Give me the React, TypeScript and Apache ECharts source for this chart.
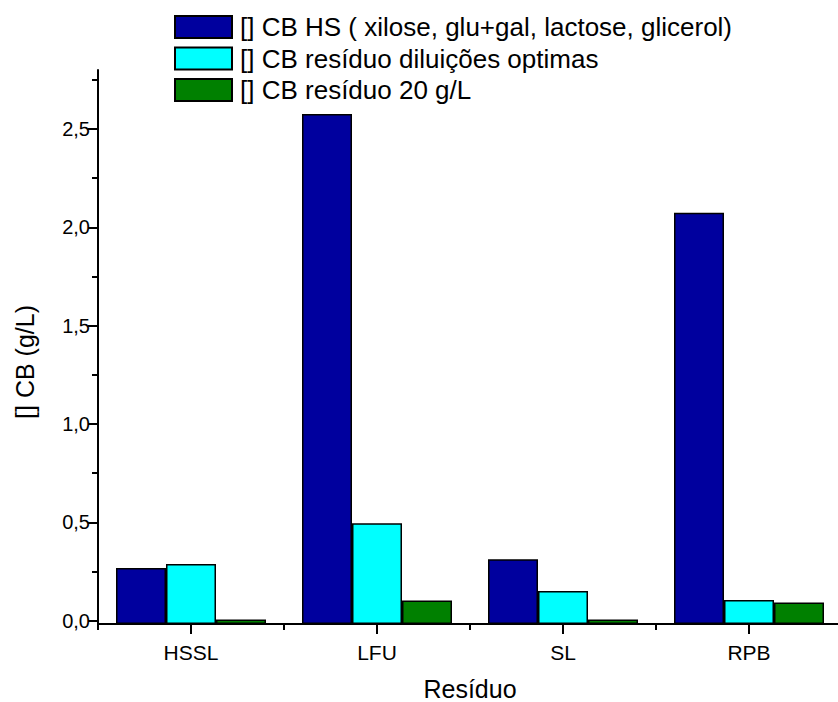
import React, { useEffect, useRef } from "react";
import * as echarts from "echarts";

const categories = ["HSSL", "LFU", "SL", "RPB"];
const seriesNames = [
  "[] CB HS ( xilose, glu+gal, lactose, glicerol)",
  "[] CB resíduo diluições optimas",
  "[] CB resíduo 20 g/L",
];
const hsValues = [0.268, 2.576, 0.312, 2.074];
const optimaValues = [0.288, 0.495, 0.151, 0.105];
const g20Values = [0.006, 0.102, 0.006, 0.092];
const yMajorTicks = [0, 0.5, 1.0, 1.5, 2.0, 2.5];
const yMinorTicks = [0.25, 0.75, 1.25, 1.75, 2.25, 2.75];
const colors = ["#00009E", "#00FFFF", "#008000"];

const FONT = 'Arial, "Liberation Sans", sans-serif';

export default function App() {
  const ref = useRef<HTMLDivElement>(null);
  useEffect(() => {
    if (!ref.current) return;
    const chart = echarts.init(ref.current, undefined, { renderer: "svg" });
    const yMin = -0.017;
    const yMax = 2.8;
    const values = [hsValues, optimaValues, g20Values];
    chart.setOption({
      animation: false,
      backgroundColor: "#ffffff",
      textStyle: { fontFamily: FONT, color: "#000" },
      grid: {
        left: 98,
        top: 70,
        width: 744,
        height: 554,
        containLabel: false,
        outerBoundsMode: "none",
      },
      legend: {
        orient: "vertical",
        left: 174,
        top: 14,
        padding: 0,
        itemWidth: 57,
        itemHeight: 22,
        itemGap: 5.5,
        icon: "rect",
        textStyle: { fontSize: 26, fontFamily: FONT, color: "#000", padding: [0, 0, 0, 3] },
        data: seriesNames,
      },
      xAxis: [
        {
          type: "category",
          data: categories,
          position: "bottom",
          axisLine: { show: true, onZero: false, lineStyle: { color: "#000", width: 2 } },
          axisTick: { show: true, alignWithLabel: true, length: 10, lineStyle: { color: "#000", width: 2 } },
          axisLabel: { fontSize: 21, color: "#000", margin: 18, fontFamily: FONT },
          splitLine: { show: false },
          name: "Resíduo",
          nameLocation: "middle",
          nameGap: 52,
          nameTextStyle: { fontSize: 25, color: "#000", fontFamily: FONT },
        },
        {
          type: "category",
          data: categories,
          position: "bottom",
          axisLine: { show: false, onZero: false },
          axisTick: { show: true, alignWithLabel: false, length: 6, lineStyle: { color: "#000", width: 2 } },
          axisLabel: { show: false },
          splitLine: { show: false },
        },
      ],
      yAxis: [
        {
          type: "value",
          min: yMin,
          max: yMax,
          startValue: yMin,
          position: "left",
          axisLine: { show: true, lineStyle: { color: "#000", width: 2 } },
          axisTick: { show: true, length: 10, customValues: yMajorTicks, lineStyle: { color: "#000", width: 2 } },
          axisLabel: {
            fontSize: 20,
            color: "#000",
            margin: 8,
            fontFamily: FONT,
            customValues: yMajorTicks,
            formatter: (v: number) => v.toFixed(1).replace(".", ","),
          },
          splitLine: { show: false },
        },
        {
          type: "value",
          min: yMin,
          max: yMax,
          position: "left",
          axisLine: { show: false },
          axisTick: { show: true, length: 6, customValues: yMinorTicks, lineStyle: { color: "#000", width: 2 } },
          axisLabel: { show: false },
          splitLine: { show: false },
        },
      ],
      graphic: [
        {
          type: "text",
          x: 25,
          y: 362,
          rotation: Math.PI / 2,
          style: {
            text: "[] CB (g/L)",
            fontSize: 25,
            fontFamily: FONT,
            fill: "#000",
            textAlign: "center",
            textVerticalAlign: "middle",
          },
        },
      ],
      series: seriesNames.map((name, i) => ({
        name,
        type: "bar",
        xAxisIndex: 0,
        yAxisIndex: 0,
        data: values[i],
        barWidth: 50,
        barGap: "0%",
        itemStyle: { color: colors[i], borderColor: "#000", borderWidth: 1.5 },
      })),
    });
    return () => chart.dispose();
  }, []);
  return (
    <div
      ref={ref}
      style={{ position: "absolute", left: 0, top: 0, width: 838, height: 702 }}
    />
  );
}
